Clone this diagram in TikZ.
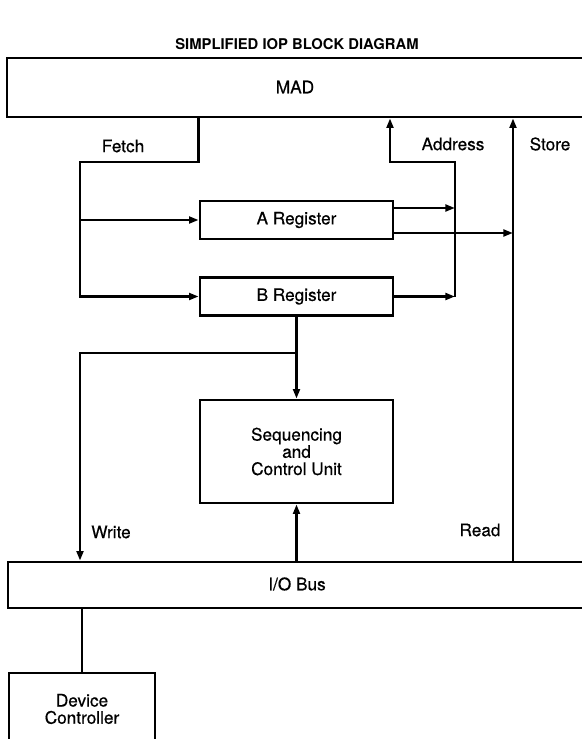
\documentclass[tikz,border=0pt]{standalone}
\usepackage{fontspec}
\setmainfont{TeX Gyre Heros}
\newfontfamily\heavyfont[FakeBold=0.5]{TeX Gyre Heros}
\usetikzlibrary{arrows.meta,calc}
\begin{document}
\begin{tikzpicture}[x=0.5pt,y=-0.5pt,
  line width=1.35pt,
  box/.style={draw,line width=1.35pt,inner sep=0pt},
  txt/.style={font=\heavyfont\fontsize{8.6}{8.6}\selectfont,align=center,inner sep=0pt},
  arr/.style={-{Triangle[length=4.8pt,width=3.4pt]}},
  ttl/.style={font=\bfseries\fontsize{7.4}{8}\selectfont,inner sep=0pt}]
\useasboundingbox (0,0) rectangle (582,739);
\fill[white] (0,0) rectangle (582,739);
\clip (0,0) rectangle (582,739);
% title
\node[ttl] (title) at (297,44) {SIMPLIFIED IOP BLOCK DIAGRAM};
% boxes
\node[box,minimum width=296.5pt,minimum height=29.5pt] (mad) at (303.5,87.5) {};
\node[txt] (madt) at (295,87) {MAD};
\node[box,txt,minimum width=96.5pt,minimum height=19pt] (areg) at (296.5,220) {A Register};
\node[box,txt,minimum width=96.5pt,minimum height=19pt] (breg) at (296.5,296.5) {B Register};
\node[box,txt,minimum width=96.5pt,minimum height=51.5pt] (seq) at (296.5,451.5) {Sequencing\\and\\Control Unit};
\node[box,minimum width=296pt,minimum height=23pt] (iob) at (304,585) {};
\node[txt] (iobt) at (297,584) {I/O Bus};
\node[box,minimum width=73pt,minimum height=45pt] (dev) at (82,718) {};
\node[txt] (devt) at (82,709) {Device\\Controller};
% labels
\node[txt] (lf) at (123,146) {Fetch};
\node[txt] (la) at (453,144) {Address};
\node[txt] (ls) at (550,144) {Store};
\node[txt] (lw) at (111,532) {Write};
\node[txt] (lr) at (480,530) {Read};
% coordinates
\coordinate (ftop) at (80,162);
\coordinate (atop) at (455,162);
\coordinate (aup) at (390,162);
\coordinate (st) at (513,300);
\coordinate (wj) at (296.5,353);
\coordinate (wl) at (80,353);
\coordinate (a1) at ($(areg.east)+(0,-12)$);
\coordinate (a2) at ($(areg.east)+(0,13)$);
% connectors
\draw[arr] (mad.south -| areg.west) |- (ftop) |- (breg.west);
\draw[arr] (ftop |- areg.west) -- (areg.west);
\draw[arr] (a1) -- (a1 -| atop);
\draw[arr] (a2) -- (a2 -| st);
\draw[arr] (breg.east) -- (breg.east -| atop);
\draw[arr] (breg.east -| atop) -- (atop) -- (aup) -- (aup |- mad.south);
\draw[arr] (st |- iob.north) -- (st |- mad.south);
\draw[arr] (breg.south) -- (seq.north);
\draw[arr] (wj) -- (wl) -- (wl |- iob.north);
\draw[arr] (iob.north -| seq.south) -- (seq.south);
\draw (iob.south -| dev.north) -- (dev.north);
\end{tikzpicture}
\end{document}
